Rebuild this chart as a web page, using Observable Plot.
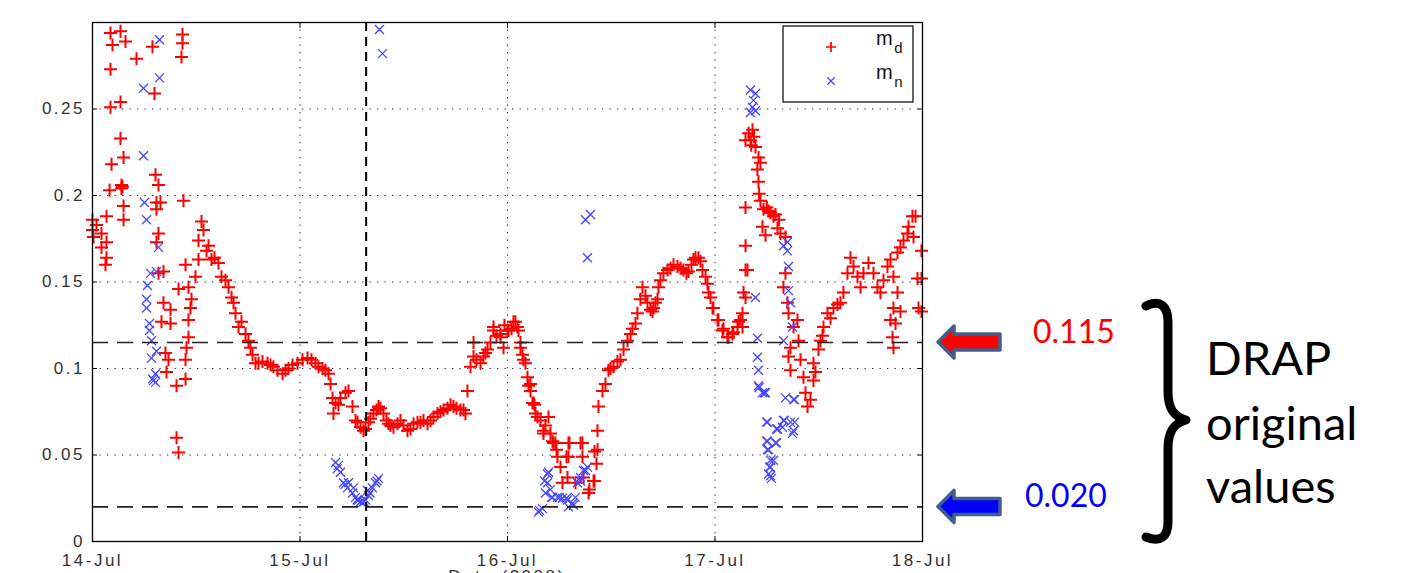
<!DOCTYPE html>
<html><head><meta charset="utf-8">
<script src="https://cdn.jsdelivr.net/npm/d3@7"></script>
<script src="https://cdn.jsdelivr.net/npm/@observablehq/plot@0.6"></script>
<style>
body{margin:0;background:#fff;}
#chart svg{display:block;}
g[aria-label="x-axis tick label"], g[aria-label="y-axis tick label"]{letter-spacing:2.5px;}
</style></head><body><div id="chart"></div>
<script>
// ---- data (hours since 14-Jul-2008 00:00 UTC, value) ----
const startDate = Date.UTC(2008, 6, 14);
const dayTicks = ["2008-07-14","2008-07-15","2008-07-16","2008-07-17","2008-07-18"];
const dayLabels = ["14-Jul","15-Jul","16-Jul","17-Jul","18-Jul"];
const yTicks = [0, 0.05, 0.1, 0.15, 0.2, 0.25];
const yLabels = ["0","0.05","0.1","0.15","0.2","0.25"];
const seriesNames = ["m", "m"];
const seriesSubs = ["d", "n"];
const thresholdValues = [0.115, 0.020];
const thresholdLabels = ["0.115", "0.020"];
const eventHour = 31.65;
const noteLines = ["DRAP", "original", "values"];
const xTitle = "Date (2008)";

const md14Jul = [[0.0,0.186],[0.46,0.183],[0.0,0.180],[1.04,0.178],[0.12,0.176],[1.62,0.173],[1.04,0.170],[1.62,0.164],[1.50,0.160],[1.62,0.188],[3.59,0.194],[3.59,0.186],[1.97,0.203],[3.35,0.206],[3.35,0.204],[2.20,0.218],[3.59,0.222],[3.47,0.205],[2.08,0.251],[3.24,0.254],[3.24,0.233],[2.08,0.273],[2.08,0.294],[3.24,0.295],[2.31,0.287],[3.82,0.289],[5.09,0.279],[6.94,0.286],[7.17,0.259],[10.41,0.293],[10.41,0.288],[10.29,0.280],[7.29,0.212],[7.63,0.206],[7.40,0.196],[7.86,0.196],[7.40,0.192],[10.52,0.197],[7.63,0.178],[7.40,0.173],[8.21,0.156],[7.63,0.155],[8.21,0.138],[9.02,0.134],[7.98,0.127],[9.02,0.126],[8.44,0.109],[8.79,0.105],[8.56,0.098],[9.72,0.090],[10.76,0.094],[9.72,0.060],[9.95,0.0515],[9.95,0.146],[10.76,0.160],[11.10,0.147],[11.33,0.135],[11.10,0.128],[11.10,0.118],[10.87,0.112],[10.76,0.105],[11.45,0.140],[11.91,0.153],[12.26,0.163],[12.26,0.174],[12.61,0.185],[12.84,0.180],[13.19,0.168],[13.42,0.171],[13.76,0.163],[14.11,0.164],[14.57,0.161],[14.92,0.153],[15.38,0.151],[15.73,0.147],[16.08,0.141],[16.31,0.138],[16.54,0.132],[16.89,0.124],[17.23,0.127],[17.70,0.120],[18.04,0.116],[18.27,0.112],[18.51,0.108],[18.85,0.103]];
const md15Jul = [[19.20,0.103],[19.66,0.104],[20.24,0.103],[20.59,0.102],[20.93,0.101],[21.40,0.099],[21.98,0.097],[22.32,0.099],[22.67,0.100],[23.13,0.102],[23.71,0.103],[24.29,0.105],[24.87,0.106],[25.33,0.105],[25.79,0.103],[26.14,0.101],[26.60,0.100],[26.95,0.099],[27.30,0.097],[27.53,0.091],[27.76,0.083],[27.87,0.074],[28.11,0.080],[28.45,0.079],[28.68,0.083],[29.26,0.086],[29.61,0.087],[30.07,0.078],[30.42,0.070],[30.65,0.069],[31.00,0.066],[31.34,0.064],[31.58,0.065],[31.92,0.069],[32.15,0.071],[32.50,0.074],[32.85,0.076],[33.08,0.078],[33.31,0.077],[33.66,0.074],[34.00,0.070],[34.24,0.068],[34.47,0.067],[34.81,0.066],[35.28,0.068],[35.62,0.070],[35.97,0.067],[36.43,0.064],[36.78,0.065],[37.13,0.068],[37.59,0.069],[37.94,0.069],[38.28,0.070],[38.75,0.068],[39.09,0.070],[39.44,0.072],[39.90,0.074],[40.25,0.075],[40.60,0.076],[41.06,0.077],[41.41,0.079],[41.75,0.078],[42.10,0.077],[42.56,0.076],[42.91,0.076],[43.14,0.074],[43.37,0.087],[43.72,0.101],[44.07,0.107],[44.07,0.115],[44.41,0.105],[44.88,0.103],[45.22,0.107],[45.45,0.109],[45.69,0.111],[46.03,0.115],[46.38,0.122],[46.38,0.124],[46.73,0.119],[47.19,0.118],[47.19,0.120],[47.54,0.112],[47.65,0.125]];
const md16Jul = [[48.00,0.122],[48.11,0.122],[48.46,0.123],[48.69,0.127],[48.92,0.127],[49.15,0.124],[49.27,0.122],[49.50,0.112],[49.50,0.115],[49.73,0.108],[49.85,0.105],[50.08,0.103],[50.31,0.095],[50.43,0.090],[50.66,0.087],[50.66,0.091],[50.89,0.080],[51.01,0.080],[51.12,0.079],[51.24,0.074],[51.47,0.072],[51.82,0.070],[52.16,0.064],[52.16,0.0625],[52.39,0.067],[52.74,0.072],[52.97,0.0625],[53.20,0.058],[53.32,0.057],[53.55,0.057],[53.67,0.053],[53.78,0.049],[54.13,0.043],[54.36,0.034],[54.82,0.049],[54.94,0.037],[55.05,0.057],[55.05,0.049],[55.17,0.057],[55.86,0.034],[56.44,0.057],[56.67,0.049],[56.67,0.057],[56.79,0.037],[57.37,0.028],[57.48,0.030],[57.95,0.035],[58.06,0.052],[58.06,0.035],[58.29,0.045],[58.41,0.053],[58.41,0.064],[58.52,0.078],[58.99,0.087],[59.33,0.091],[59.68,0.099],[59.91,0.100],[60.26,0.101],[60.72,0.104],[61.07,0.105],[61.42,0.111],[61.88,0.116],[62.23,0.120],[62.46,0.123],[62.80,0.126],[63.03,0.132],[63.38,0.140],[63.61,0.147],[63.96,0.142],[64.19,0.138],[64.54,0.134],[64.77,0.133],[64.89,0.135],[65.12,0.138],[65.35,0.140],[65.46,0.147],[65.69,0.151],[66.04,0.155],[66.50,0.157],[66.85,0.158],[67.20,0.160],[67.66,0.159],[68.01,0.158],[68.35,0.157],[68.70,0.155],[68.93,0.156],[69.28,0.160],[69.51,0.163],[69.74,0.164],[70.09,0.164],[70.32,0.162],[70.55,0.157],[70.90,0.153],[71.13,0.149]];
const md17Jul = [[71.25,0.144],[71.48,0.141],[71.71,0.135],[71.82,0.135],[72.29,0.128],[72.40,0.128],[72.87,0.122],[72.98,0.123],[73.44,0.118],[73.56,0.118],[74.02,0.120],[74.14,0.121],[74.60,0.124],[74.72,0.127],[74.95,0.128],[75.18,0.132],[75.18,0.124],[75.30,0.144],[75.53,0.141],[75.53,0.157],[75.53,0.171],[75.53,0.193],[75.53,0.232],[75.76,0.157],[75.9,0.236],[76.10,0.232],[76.2,0.229],[76.34,0.238],[76.5,0.234],[76.68,0.228],[76.9,0.215],[77.03,0.222],[77.03,0.208],[77.1,0.201],[77.26,0.219],[77.26,0.197],[77.49,0.182],[77.61,0.192],[77.84,0.177],[78.0,0.193],[78.2,0.191],[78.42,0.190],[78.76,0.188],[79.0,0.189],[79.23,0.181],[79.4,0.186],[79.57,0.178],[79.92,0.147],[80.15,0.176],[80.15,0.155],[80.38,0.138],[80.50,0.132],[80.50,0.107],[80.73,0.112],[80.73,0.099],[81.08,0.124],[81.54,0.128],[81.66,0.116],[81.89,0.105],[82.23,0.095],[82.47,0.086],[82.70,0.078],[83.04,0.082],[83.39,0.093],[83.39,0.103],[83.62,0.098],[83.97,0.111],[84.20,0.116],[84.43,0.119],[84.55,0.124],[85.01,0.132],[85.36,0.129],[85.70,0.135],[86.17,0.137],[86.51,0.138],[86.86,0.144],[87.32,0.155],[87.67,0.164],[88.02,0.159],[88.48,0.153],[88.83,0.147],[89.17,0.155],[89.75,0.161],[90.33,0.155],[90.79,0.147],[91.14,0.144],[91.49,0.151],[91.95,0.159],[92.30,0.163],[92.30,0.128],[92.53,0.118],[92.64,0.153],[92.64,0.135],[92.64,0.112],[92.88,0.126],[93.11,0.144],[93.11,0.167],[93.45,0.170],[93.45,0.133],[93.80,0.174],[94.26,0.178],[94.38,0.182],[94.84,0.188],[94.96,0.176],[95.19,0.188],[95.42,0.152],[95.54,0.135],[95.88,0.168],[95.88,0.152],[95.88,0.133]];

const mn14Jul = [[7.75,0.290],[7.75,0.268],[5.90,0.262],[5.90,0.223],[6.01,0.196],[6.25,0.186],[7.63,0.170],[6.71,0.155],[7.40,0.156],[6.36,0.148],[6.25,0.140],[6.25,0.135],[6.59,0.126],[6.59,0.122],[6.82,0.116],[7.40,0.110],[6.82,0.106],[7.29,0.097],[7.06,0.093],[7.29,0.092],[6.94,0.094]];
const mn15Jul = [[28.11,0.0457],[28.3,0.042],[28.45,0.044],[28.68,0.040],[29.03,0.034],[29.2,0.033],[29.49,0.031],[29.61,0.034],[30.07,0.028],[30.19,0.031],[30.42,0.0255],[30.6,0.024],[30.77,0.024],[31.0,0.023],[31.23,0.0226],[31.4,0.023],[31.58,0.024],[31.81,0.0295],[31.92,0.0266],[32.1,0.028],[32.38,0.031],[32.73,0.034],[32.9,0.035],[33.08,0.0365],[33.19,0.296],[33.54,0.282]];
const mn16Jul = [[51.59,0.017],[51.70,0.018],[52.05,0.019],[52.28,0.035],[52.39,0.028],[52.63,0.034],[52.63,0.039],[52.74,0.040],[52.97,0.030],[53.09,0.0255],[53.20,0.0255],[53.78,0.0255],[54.01,0.0255],[54.36,0.025],[54.82,0.025],[54.94,0.024],[55.05,0.020],[55.52,0.022],[55.63,0.021],[55.86,0.0255],[56.09,0.034],[56.44,0.037],[56.44,0.035],[56.79,0.041],[57.02,0.041],[57.25,0.043],[57.02,0.186],[57.60,0.189],[57.25,0.164]];
const mn17Jul = [[76.10,0.261],[76.68,0.259],[76.45,0.255],[76.34,0.251],[76.10,0.248],[76.68,0.249],[76.68,0.141],[76.91,0.1175],[76.91,0.1065],[77.03,0.099],[77.03,0.090],[77.1,0.089],[77.49,0.086],[77.72,0.086],[77.84,0.086],[77.96,0.069],[78.07,0.069],[77.96,0.058],[78.07,0.058],[78.07,0.053],[78.19,0.053],[79.00,0.057],[79.12,0.057],[78.42,0.047],[78.76,0.047],[78.42,0.043],[78.30,0.043],[78.42,0.038],[78.19,0.039],[78.53,0.0365],[79.23,0.065],[79.12,0.065],[79.80,0.066],[80.03,0.070],[79.92,0.070],[80.73,0.069],[81.08,0.064],[80.96,0.0625],[81.2,0.069],[80.15,0.083],[81.08,0.082],[81.2,0.082],[80.38,0.173],[80.38,0.168],[80.50,0.159],[80.50,0.145],[80.73,0.138],[80.96,0.124],[79.92,0.116],[79.92,0.171]];

// ---- build ----
const toDate = h => new Date(startDate + h * 3600e3);
const md = [...md14Jul, ...md15Jul, ...md16Jul, ...md17Jul];
const mn = [...mn14Jul, ...mn15Jul, ...mn16Jul, ...mn17Jul];
const dayDates = dayTicks.map(s => new Date(s + "T00:00:00Z"));

const plusSymbol = {draw(ctx, size) { const r = Math.sqrt(size / Math.PI); ctx.moveTo(-r, 0); ctx.lineTo(r, 0); ctx.moveTo(0, -r); ctx.lineTo(0, r); }};
const timesSymbol = {draw(ctx, size) { const r = Math.sqrt(size / Math.PI); ctx.moveTo(-r, -r); ctx.lineTo(r, r); ctx.moveTo(-r, r); ctx.lineTo(r, -r); }};

const RED = "#ff0000", BLUE = "#4646ff";
const axisFont = "Liberation Sans, Arial, sans-serif";

const chart = Plot.plot({
  width: 1417, height: 573,
  marginLeft: 92, marginRight: 495, marginTop: 22, marginBottom: 32,
  style: {background: "#fff", overflow: "visible"},
  x: {type: "utc", domain: [dayDates[0], dayDates[4]], axis: null},
  y: {domain: [0, 0.3], axis: null},
  marks: [
    Plot.ruleX(dayDates.slice(1, 4), {stroke: "#000", strokeWidth: 1, strokeDasharray: "1.3,6.2", strokeOpacity: 0.85}),
    Plot.ruleY(yTicks.slice(1), {stroke: "#000", strokeWidth: 1, strokeDasharray: "1.3,6.2", strokeOpacity: 0.85}),
    Plot.dot(md, {x: d => toDate(d[0]), y: d => d[1], symbol: plusSymbol, r: 6.5, fill: "none", stroke: RED, strokeWidth: 2}),
    Plot.dot(mn, {x: d => toDate(d[0]), y: d => d[1], symbol: timesSymbol, r: 4.5, fill: "none", stroke: BLUE, strokeWidth: 1.3}),
    Plot.ruleY(thresholdValues, {stroke: "#222", strokeWidth: 1.6, strokeDasharray: "16,9"}),
    Plot.ruleX([toDate(eventHour)], {stroke: "#000", strokeWidth: 2, strokeDasharray: "9,6"}),
    Plot.frame({stroke: "#000", strokeWidth: 1.3}),
    Plot.axisY(yTicks, {anchor: "left", tickSize: -5, tickPadding: 12.5, tickFormat: d => yLabels[yTicks.indexOf(d)], fontSize: 17, fontFamily: axisFont, fill: "#333", label: null}),
    Plot.axisY(yTicks, {anchor: "right", tickSize: -5, tickFormat: () => "", label: null}),
    Plot.axisX(dayDates, {anchor: "bottom", tickSize: -5, tickPadding: 17, tickFormat: d => dayLabels[dayDates.findIndex(t => +t === +d)], fontSize: 17, fontFamily: axisFont, fill: "#333", label: null}),
    Plot.axisX(dayDates, {anchor: "top", tickSize: -5, tickFormat: () => "", label: null})
  ]
});
document.getElementById("chart").append(chart);

// ---- overlay: legend, x title, annotations ----
const svg = d3.select(chart);
const ys = chart.scale("y"), xs = chart.scale("x");
const x0 = xs.apply(dayDates[0]), x1 = xs.apply(dayDates[4]);

// legend
const lg = svg.append("g");
lg.append("rect").attr("x", 783).attr("y", 26).attr("width", 130).attr("height", 76).attr("fill", "#fff").attr("stroke", "#000").attr("stroke-width", 1.2);
lg.append("path").attr("transform", "translate(831,47)").attr("d", d3.symbol(plusSymbol, Math.PI * 25)()).attr("stroke", RED).attr("stroke-width", 1.7).attr("fill", "none");
lg.append("path").attr("transform", "translate(831,81)").attr("d", d3.symbol(timesSymbol, Math.PI * 14)()).attr("stroke", BLUE).attr("stroke-width", 1.2).attr("fill", "none");
[[45, 0], [79, 1]].forEach(([yy, i]) => {
  const t = lg.append("text").attr("x", 876).attr("y", yy).attr("text-anchor", "start").attr("font-family", axisFont).attr("fill", "#111").style("letter-spacing", "1.5px");
  t.append("tspan").attr("font-size", 20).text(seriesNames[i]);
  t.append("tspan").attr("font-size", 15).attr("dy", 8).text(seriesSubs[i]);
});

// x title (clipped at the bottom, as in the source figure)
svg.append("text").attr("x", (x0 + x1) / 2).attr("y", 582).attr("text-anchor", "middle").attr("font-family", axisFont).attr("font-size", 17).attr("fill", "#333").style("letter-spacing", "2.5px").text(xTitle);

// arrows and values
const arrowColors = [RED, "#0000ff"];
thresholdValues.forEach((v, i) => {
  const yc = ys.apply(v);
  const p = `M938,${yc} L954,${yc - 16} L954,${yc - 8} L1000,${yc - 8} L1000,${yc + 8} L954,${yc + 8} L954,${yc + 16} Z`;
  svg.append("path").attr("d", p).attr("fill", arrowColors[i]).attr("stroke", "#3f5f8c").attr("stroke-width", 3.5).attr("stroke-linejoin", "round");
  svg.append("text").attr("x", i === 0 ? 1033 : 1025).attr("y", yc + 1).attr("text-anchor", "start").attr("font-family", "Lato, sans-serif").attr("font-size", 32).attr("fill", arrowColors[i]).text(thresholdLabels[i]);
});

// brace
svg.append("path")
  .attr("d", "M1146,306 C1160,299 1168,306 1168,322 L1168,392 C1168,410 1175,417 1186,420 C1175,423 1168,430 1168,448 L1168,522 C1168,537 1160,543 1146,537")
  .attr("fill", "none").attr("stroke", "#000").attr("stroke-width", 9).attr("stroke-linecap", "round").attr("stroke-linejoin", "round");

noteLines.forEach((s, i) => {
  svg.append("text").attr("x", 1206).attr("y", [375, 440, 503][i]).attr("text-anchor", "start").attr("font-family", "Lato, sans-serif").attr("font-size", 47).attr("fill", "#000").text(s);
});
</script></body></html>
